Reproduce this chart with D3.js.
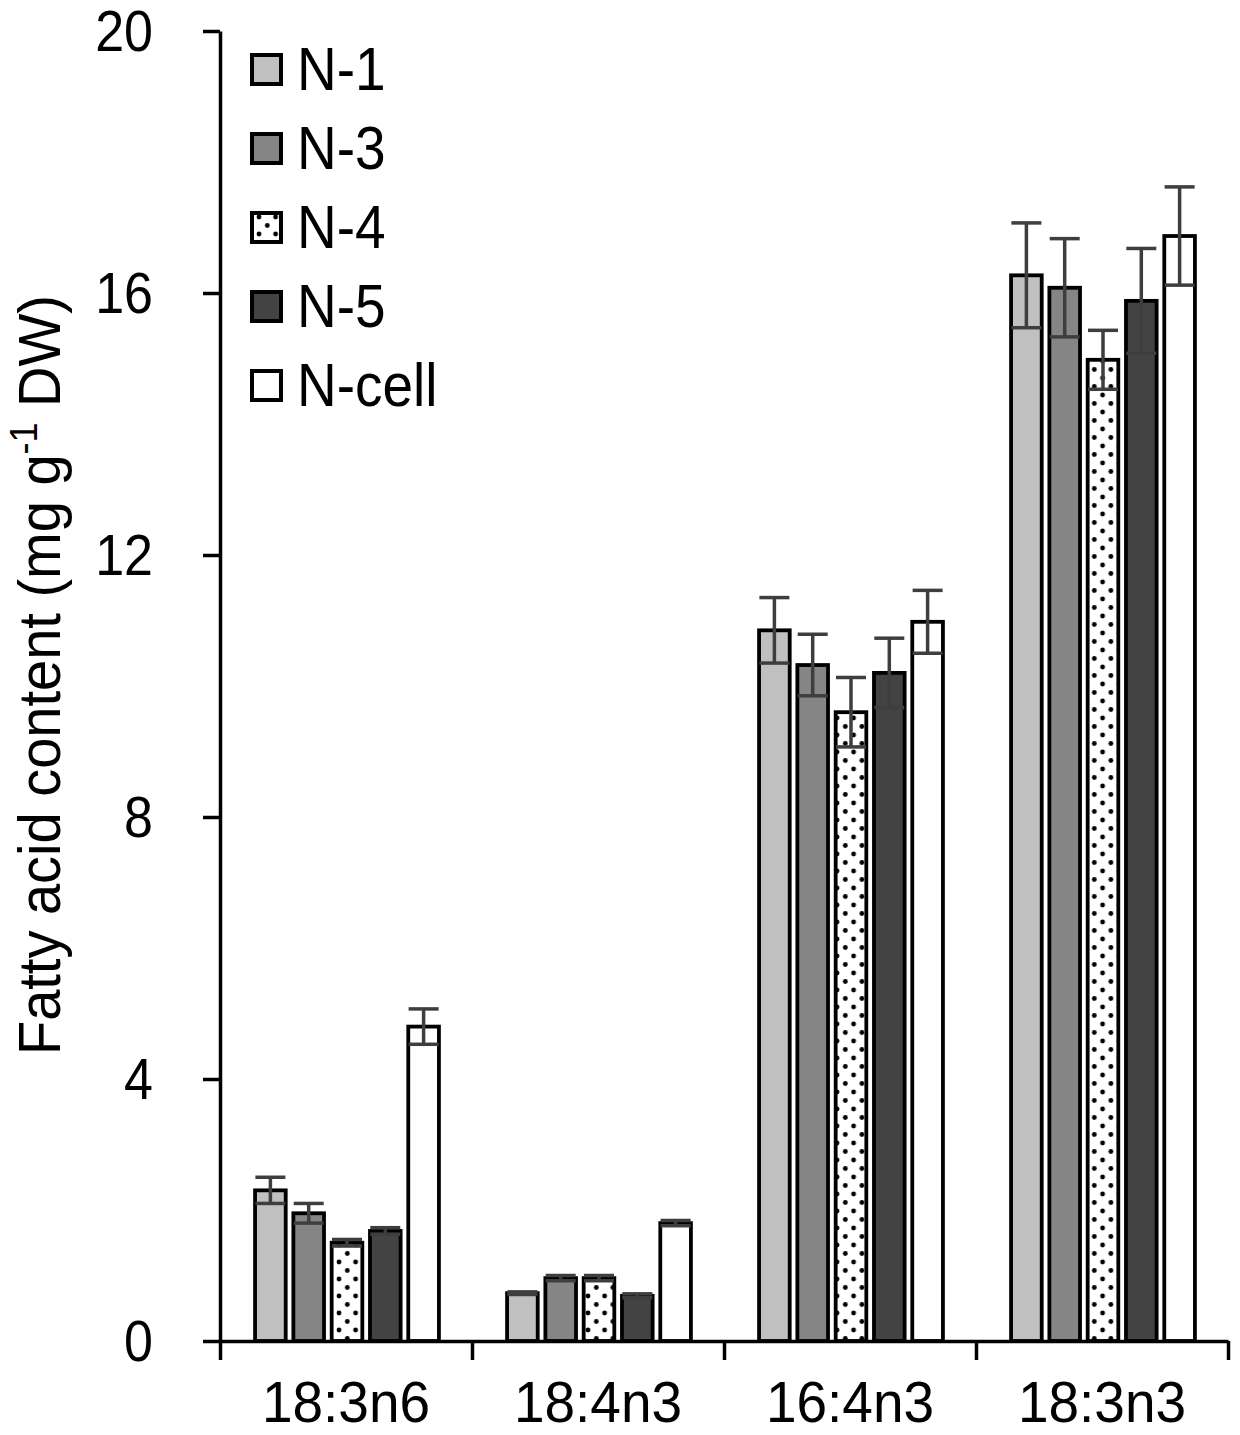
<!DOCTYPE html>
<html><head><meta charset="utf-8">
<script src="https://cdn.jsdelivr.net/npm/d3@7/dist/d3.min.js"></script>
<style>body{margin:0;background:#fff}svg{display:block}</style>
</head><body>
<svg id="c" width="1240" height="1435"></svg>
<script>
// ---- data ----
const categories = ["18:3n6", "18:4n3", "16:4n3", "18:3n3"];
const seriesNames = ["N-1", "N-3", "N-4", "N-5", "N-cell"];
const valuesN1   = [2.30, 0.73, 10.85, 16.27];
const valuesN3   = [1.95, 0.96, 10.32, 16.08];
const valuesN4   = [1.50, 0.96, 9.60, 14.98];
const valuesN5   = [1.68, 0.69, 10.20, 15.88];
const valuesNcel = [4.80, 1.80, 10.98, 16.87];
const errN1   = [0.20, 0.02, 0.50, 0.80];
const errN3   = [0.15, 0.04, 0.47, 0.75];
const errN4   = [0.05, 0.04, 0.53, 0.45];
const errN5   = [0.05, 0.03, 0.53, 0.80];
const errNcel = [0.27, 0.04, 0.48, 0.75];
const yTicks = [0, 4, 8, 12, 16, 20];
const yLabel = "Fatty acid content (mg g";
const yLabelSup = "-1";
const yLabelEnd = " DW)";

const seriesValues = [valuesN1, valuesN3, valuesN4, valuesN5, valuesNcel];
const seriesErrors = [errN1, errN3, errN4, errN5, errNcel];
const fills = ["#c0c0c0", "#858585", "url(#dots)", "#434343", "#ffffff"];

const data = [];
categories.forEach((c, ci) => {
  seriesNames.forEach((s, si) => {
    data.push({cat: c, series: s, si, value: seriesValues[si][ci], err: seriesErrors[si][ci]});
  });
});

// ---- layout ----
const FONT = "'Liberation Sans', Arial, Helvetica, sans-serif";
const K = 1.1; // vertical glyph stretch
const svg = d3.select("#c");
const defs = svg.append("defs");
const pat = defs.append("pattern").attr("id", "dots")
  .attr("patternUnits", "userSpaceOnUse").attr("width", 16.6).attr("height", 17)
  .attr("x", 3).attr("y", 0);
pat.append("rect").attr("width", 16.6).attr("height", 17).attr("fill", "#fff");
pat.append("circle").attr("cx", 4).attr("cy", 4).attr("r", 2.4).attr("fill", "#000");
pat.append("circle").attr("cx", 12.3).attr("cy", 12.5).attr("r", 2.4).attr("fill", "#000");

const mLeft = 220, mRight = 1228, mTop = 31, mBottom = 1341;
const y = d3.scaleLinear().domain([0, 20]).range([mBottom, mTop]);
const x0 = d3.scaleBand().domain(categories).range([mLeft, mRight]).paddingInner(0.24).paddingOuter(0.12);
const x1 = d3.scaleBand().domain(seriesNames).range([0, x0.bandwidth()]).paddingInner(0.2).paddingOuter(0.1);
const xLin = d3.scaleLinear().domain([0, categories.length]).range([mLeft, mRight]);

// bars
svg.append("g").selectAll("rect").data(data).join("rect")
  .attr("x", d => x0(d.cat) + x1(d.series) + 1)
  .attr("y", d => y(d.value))
  .attr("width", x1.bandwidth())
  .attr("height", d => y(0) - y(d.value))
  .attr("fill", d => fills[d.si])
  .attr("stroke", "#000").attr("stroke-width", 3.8);

// error bars
const eg = svg.append("g").attr("stroke", "#3e3e3e").attr("stroke-width", 3.5).attr("fill", "none");
const cx = d => x0(d.cat) + x1(d.series) + 1 + x1.bandwidth() / 2;
const capW = 15;
const withErr = data.filter(d => d.err > 0);
eg.selectAll("line.v").data(withErr).join("line").attr("class", "v")
  .attr("x1", cx).attr("x2", cx)
  .attr("y1", d => y(d.value + d.err)).attr("y2", d => y(d.value - d.err));
eg.selectAll("line.t").data(withErr).join("line").attr("class", "t")
  .attr("x1", d => cx(d) - capW).attr("x2", d => cx(d) + capW)
  .attr("y1", d => y(d.value + d.err)).attr("y2", d => y(d.value + d.err));
eg.selectAll("line.b").data(withErr).join("line").attr("class", "b")
  .attr("x1", d => cx(d) - capW).attr("x2", d => cx(d) + capW)
  .attr("y1", d => y(d.value - d.err)).attr("y2", d => y(d.value - d.err));

// y axis
const yAxis = svg.append("g").attr("transform", `translate(${mLeft},0)`)
  .call(d3.axisLeft(y).tickValues(yTicks).tickFormat(d3.format("d")).tickSize(17).tickSizeOuter(0).tickPadding(50));
yAxis.selectAll("path, line").attr("stroke", "#000").attr("stroke-width", 3.5);
yAxis.selectAll("text").attr("font-family", FONT).attr("font-size", 52).attr("fill", "#000")
  .attr("dy", "0.34em").attr("transform", `scale(1,${K})`);

// x axis: boundary ticks
const xTicksG = svg.append("g").attr("transform", `translate(0,${mBottom})`)
  .call(d3.axisBottom(xLin).ticks(categories.length).tickFormat("").tickSize(19).tickSizeOuter(0));
xTicksG.selectAll("path, line").attr("stroke", "#000").attr("stroke-width", 3.5);
// x axis: category labels
const xLab = svg.append("g").attr("transform", `translate(0,${mBottom})`)
  .call(d3.axisBottom(x0).tickSize(0).tickSizeOuter(0));
xLab.select("path").remove();
xLab.selectAll("text").attr("font-family", FONT).attr("font-size", 55).attr("fill", "#000")
  .attr("y", 0).attr("dy", 0).attr("transform", `translate(0,81) scale(1,1.06)`);

// y label
const yl = svg.append("text").attr("font-family", FONT).attr("font-size", 56).attr("fill", "#000")
  .attr("text-anchor", "middle").attr("transform", `translate(60,675) rotate(-90) scale(1,1.06)`);
yl.append("tspan").text(yLabel);
yl.append("tspan").attr("font-size", 36).attr("dy", -22).text(yLabelSup);
yl.append("tspan").attr("dy", 22).text(yLabelEnd);

// legend
const lg = svg.append("g").selectAll("g").data(seriesNames).join("g")
  .attr("transform", (d, i) => `translate(252,${55 + i * 79})`);
lg.append("rect").attr("width", 29).attr("height", 29)
  .attr("fill", (d, i) => fills[i]).attr("stroke", "#000").attr("stroke-width", 4);
lg.append("text").attr("font-family", FONT).attr("font-size", 55).attr("fill", "#000")
  .attr("transform", `translate(45,35) scale(1,${K})`).text(d => d);
</script>
</body></html>
